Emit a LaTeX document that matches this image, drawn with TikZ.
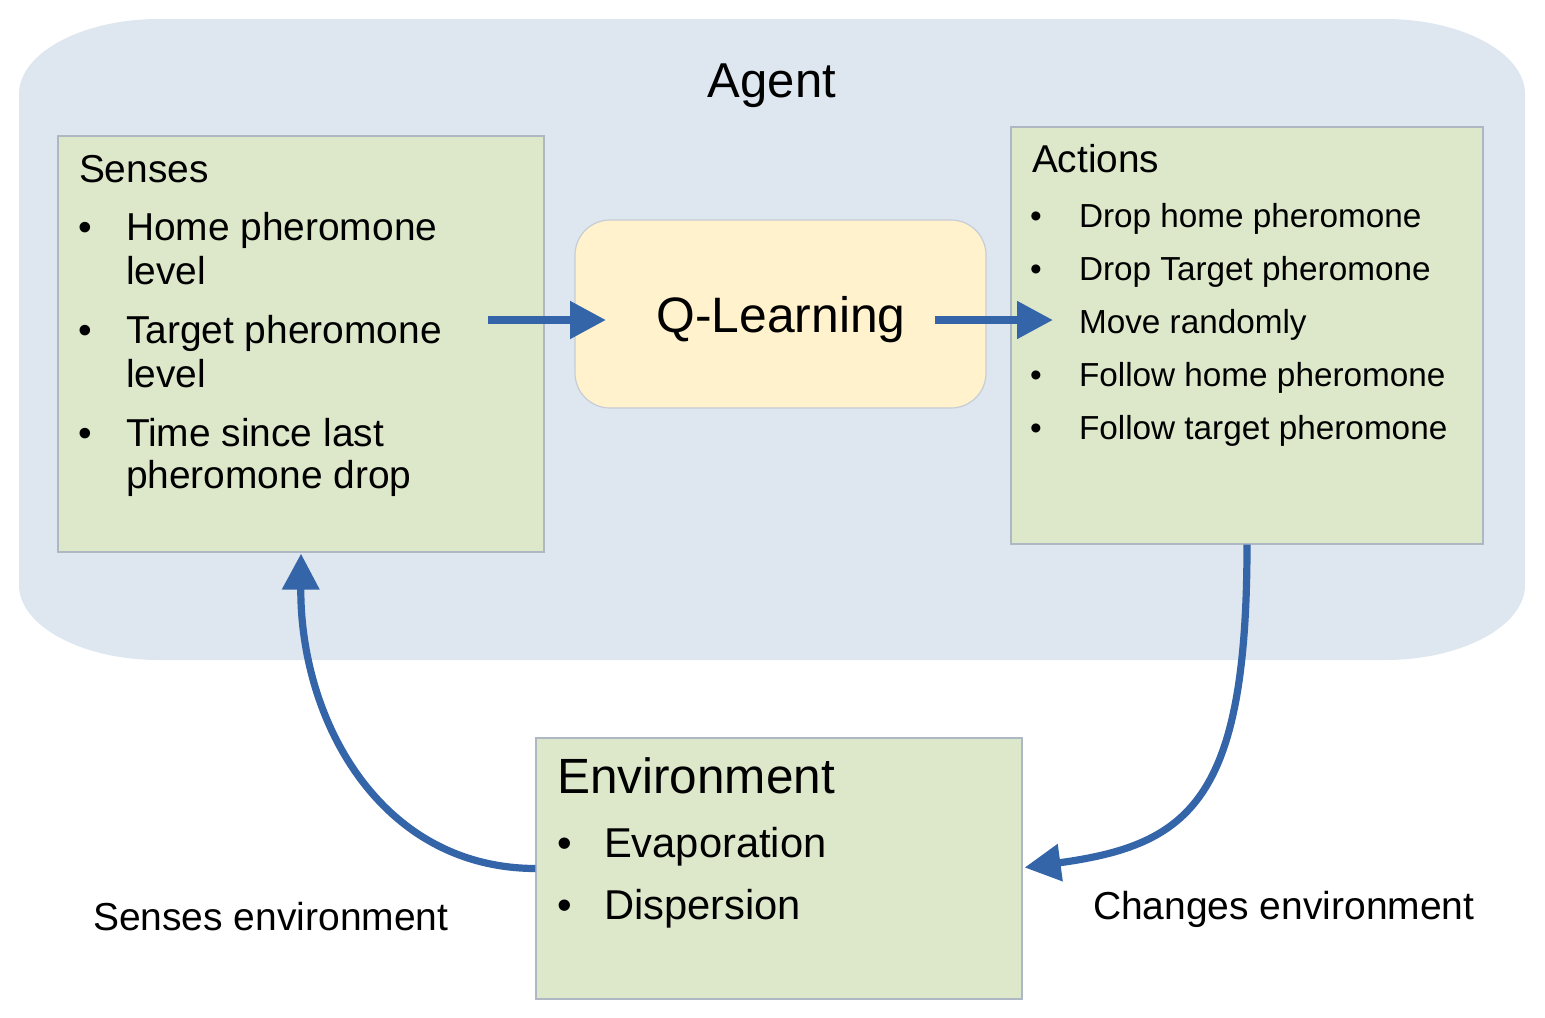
\documentclass[tikz,border=0pt]{standalone}
\usepackage{fontspec}
\setmainfont{Liberation Sans}
\usetikzlibrary{arrows.meta}
\definecolor{agentbg}{HTML}{DEE6EF}
\definecolor{boxgreen}{HTML}{DDE8CB}
\definecolor{qyellow}{HTML}{FFF2CC}
\definecolor{arrowblue}{HTML}{3465A8}
\definecolor{boxedge}{HTML}{AEB8C4}
\newcommand{\fs}[1]{\fontsize{#1pt}{#1pt}\selectfont}
\tikzset{
  greenbox/.style={draw=boxedge, line width=0.6pt, fill=boxgreen, inner sep=0pt, rectangle},
  qbox/.style={draw=boxedge!70, line width=0.6pt, fill=qyellow, inner sep=0pt, rounded corners=17.5pt},
  txt/.style={inner sep=0pt, outer sep=0pt, anchor=base west, text=black},
  arr/.style={draw=arrowblue, line width=4pt, -{Triangle[length=18pt,width=18pt]}},
  carr/.style={draw=arrowblue, line width=3.6pt, -{Triangle[length=18pt,width=18pt]}}
}
\begin{document}
\begin{tikzpicture}[x=0.5pt,y=-0.5pt]
\useasboundingbox (0,0) rectangle (1545,1017);
% Agent background
\fill[agentbg] (159,19) -- (1385,19) .. controls (1462,19) and (1525,53) .. (1525,94)
  -- (1525,585) .. controls (1525,626) and (1462,660) .. (1385,660)
  -- (159,660) .. controls (82,660) and (19,626) .. (19,585)
  -- (19,94) .. controls (19,53) and (82,19) .. (159,19) -- cycle;
\node[inner sep=0pt, anchor=base, font=\fs{24.5}] (agentT) at (772,97) {Agent};

% Boxes
\node[greenbox, minimum width=243pt, minimum height=208pt] (S) at (301,344) {};
\node[greenbox, minimum width=236pt, minimum height=208.5pt] (A) at (1247,335.5) {};
\node[qbox, minimum width=205.5pt, minimum height=94pt] (Q) at (780.5,314) {};
\node[greenbox, minimum width=243pt, minimum height=130.5pt] (E) at (779,868.5) {};

% Senses text
\begin{scope}[every node/.style={txt, font=\fs{19.45}}]
\node (sT) at (79,182) {Senses};
\node (sb1) at (78,240) {•};
\node (s1a) at (126,240) {Home pheromone};
\node (s1b) at (126,284) {level};
\node (sb2) at (78,343) {•};
\node (s2a) at (126,343) {Target pheromone};
\node (s2b) at (126,387) {level};
\node (sb3) at (78,446) {•};
\node (s3a) at (126,446) {Time since last};
\node (s3b) at (126,488) {pheromone drop};
\end{scope}

% Q text
\node[inner sep=0pt, anchor=base, font=\fs{24.9}] (qT) at (781,332) {Q-Learning};

% Actions text
\node[txt, font=\fs{19.4}] (aT) at (1032,172) {Actions};
\begin{scope}[every node/.style={txt, font=\fs{16.65}}]
\node (ab1) at (1030,227) {•};
\node (a1) at (1079,227) {Drop home pheromone};
\node (ab2) at (1030,280) {•};
\node (a2) at (1079,280) {Drop Target pheromone};
\node (ab3) at (1030,333) {•};
\node (a3) at (1079,333) {Move randomly};
\node (ab4) at (1030,386) {•};
\node (a4) at (1079,386) {Follow home pheromone};
\node (ab5) at (1030,439) {•};
\node (a5) at (1079,439) {Follow target pheromone};
\end{scope}

% Environment text
\node[txt, font=\fs{24.75}] (eT) at (557,793) {Environment};
\begin{scope}[every node/.style={txt, font=\fs{20.85}}]
\node (eb1) at (557,857) {•};
\node (e1) at (604,857) {Evaporation};
\node (eb2) at (557,919) {•};
\node (e2) at (604,919) {Dispersion};
\end{scope}

% Labels
\node[txt, font=\fs{19.5}] (lblS) at (93,930) {Senses environment};
\node[txt, font=\fs{19.5}] (lblC) at (1093,919) {Changes environment};

% Arrows
\coordinate (sq1) at (488,320);
\coordinate (sq2) at (606,320);
\coordinate (qa1) at (935,320);
\coordinate (qa2) at (1053,320);
\draw[arr] (sq1) -- (sq2);
\draw[arr] (qa1) -- (qa2);
\draw[carr] (A.south) .. controls (1247,800) and (1190,845) .. ([xshift=1pt,yshift=0.5pt]E.east);
\draw[carr] (E.west) .. controls (380,868) and (300,720) .. ([yshift=-0.5pt]S.south);
\end{tikzpicture}
\end{document}
